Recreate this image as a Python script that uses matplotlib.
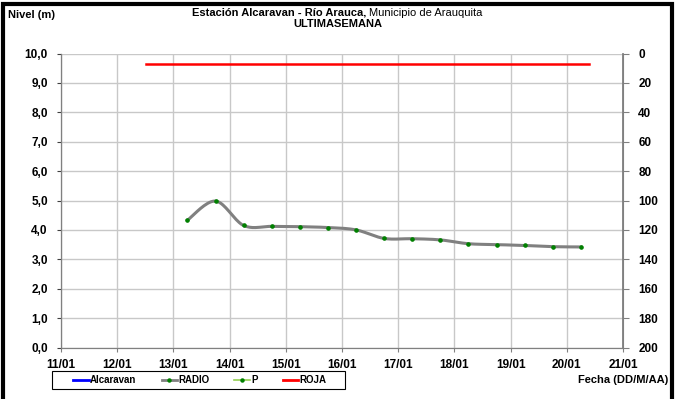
import numpy as np
import matplotlib.pyplot as plt
from matplotlib.lines import Line2D
from matplotlib.patches import Rectangle

plt.rcParams['font.family'] = ['Liberation Sans', 'DejaVu Sans']
plt.rcParams['font.weight'] = 'bold'

# readings (day of January, level in m)
dias = [13.25, 13.75, 14.25, 14.75, 15.25, 15.75, 16.25, 16.75, 17.25, 17.75, 18.25, 18.75, 19.25, 19.75, 20.25]
nivel = [4.33, 4.98, 4.15, 4.12, 4.11, 4.08, 4.00, 3.71, 3.70, 3.66, 3.53, 3.50, 3.47, 3.43, 3.42]

# alert level (ROJA)
roja_x = [12.52, 20.40]
roja_y = [9.64, 9.64]

xticks = [11, 12, 13, 14, 15, 16, 17, 18, 19, 20, 21]
xlabels = ['11/01', '12/01', '13/01', '14/01', '15/01', '16/01', '17/01', '18/01', '19/01', '20/01', '21/01']
yticks = [0, 1, 2, 3, 4, 5, 6, 7, 8, 9, 10]
ylabels = ['0,0', '1,0', '2,0', '3,0', '4,0', '5,0', '6,0', '7,0', '8,0', '9,0', '10,0']
y2ticks = [0, 20, 40, 60, 80, 100, 120, 140, 160, 180, 200]


def suave(x, y, n=20):
    # excel-like smoothed line (catmull-rom through the points)
    p = np.column_stack([x, y])
    p = np.vstack([p[0], p, p[-1]])
    out = []
    t = np.linspace(0, 1, n)[:, None]
    for i in range(1, len(p) - 2):
        p0, p1, p2, p3 = p[i - 1], p[i], p[i + 1], p[i + 2]
        seg = 0.5 * ((2 * p1) + (-p0 + p2) * t + (2 * p0 - 5 * p1 + 4 * p2 - p3) * t ** 2
                     + (-p0 + 3 * p1 - 3 * p2 + p3) * t ** 3)
        out.append(seg)
    out = np.vstack(out)
    return out[:, 0], out[:, 1]


fig = plt.figure(figsize=(6.75, 3.99), dpi=100)
ax = fig.add_axes([61 / 675, 1 - 347.5 / 399, 562 / 675, 294 / 399])

sx, sy = suave(dias, nivel)
ax.plot(sx, sy, color='#808080', lw=2.2, zorder=3)
ax.plot(dias, nivel, 'o', color='#008000', ms=2.3, zorder=4)
ax.plot(roja_x, roja_y, color='#ff0000', lw=1.8, zorder=3)

ax.set_xlim(11, 21)
ax.set_ylim(0, 10)
ax.set_xticks(xticks)
ax.set_xticklabels(xlabels, fontweight='bold')
ax.set_yticks(yticks)
ax.set_yticklabels(ylabels, fontweight='bold')
ax.grid(True, color='#c8c8c8', lw=1)
ax.tick_params(axis='y', labelsize=8.5, length=3, color='#404040', pad=6.5)
ax.tick_params(axis='x', labelsize=8.5, length=3, color='#808080', pad=5)
for s in ax.spines.values():
    s.set_color('#808080')
ax.spines['left'].set_color('#404040')
ax.spines['top'].set_visible(False)

ax2 = ax.twinx()
ax2.set_ylim(200, 0)
ax2.set_yticks(y2ticks)
ax2.set_yticklabels([str(v) for v in y2ticks], fontweight='bold')
ax2.tick_params(labelsize=8.5, length=4, color='#808080', pad=7)
for s in ax2.spines.values():
    s.set_color('#808080')
ax2.spines['right'].set_linewidth(1.3)
ax2.spines['top'].set_visible(False)

# titles
fig.text(0.012, 0.962, 'Nivel (m)', fontsize=8, fontweight='bold', va='center')
fig.text(0.543, 0.968, 'Estación Alcaravan - Río Arauca,', fontsize=8, fontweight='bold',
         ha='right', va='center')
fig.text(0.546, 0.968, 'Municipio de Arauquita', fontsize=8, fontweight='normal',
         ha='left', va='center')
fig.text(0.5, 0.94, 'ULTIMASEMANA', fontsize=8, fontweight='bold', ha='center', va='center')
fig.text(0.99, 0.048, 'Fecha (DD/M/AA)', fontsize=8, fontweight='bold', ha='right', va='center')

# legend
handles = [
    Line2D([], [], color='#0000ff', lw=2),
    Line2D([], [], color='#808080', lw=2, marker='o', ms=2.2, mfc='#008000', mec='#008000'),
    Line2D([], [], color='#92d050', lw=1.2, marker='o', ms=2.2, mfc='#008000', mec='#008000'),
    Line2D([], [], color='#ff0000', lw=2),
]
fig.legend(handles, ['Alcaravan', 'RADIO', 'P', 'ROJA'], ncol=4,
           loc='center', bbox_to_anchor=(0.296, 0.047),
           prop={'size': 7, 'weight': 'bold'}, frameon=False,
           handlelength=1.6, handletextpad=0.1, columnspacing=2.6)
fig.patches.append(Rectangle((52 / 675, 1 - 389 / 399), 293 / 675, 18 / 399,
                             transform=fig.transFigure, fill=False, edgecolor='black', lw=0.8))

# chart border
fig.patches.append(Rectangle((0.005, -0.01), 0.99, 1.0, transform=fig.transFigure,
                             fill=False, edgecolor='black', lw=3))

fig.savefig('out.png', dpi=100)
